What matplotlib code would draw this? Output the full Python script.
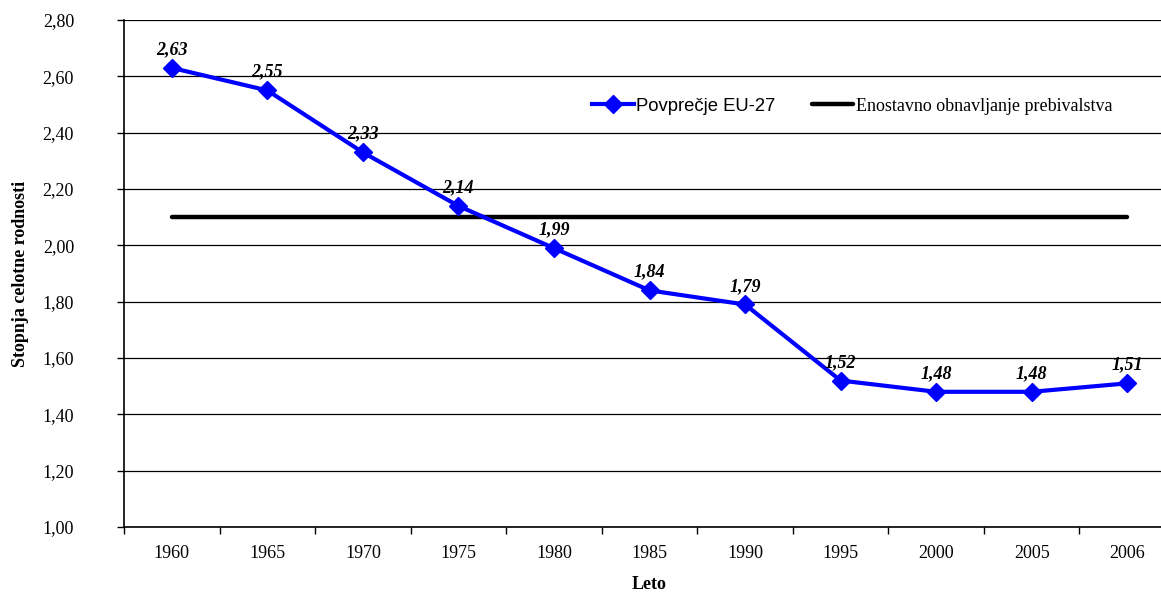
import matplotlib.pyplot as plt
from matplotlib.ticker import FixedLocator, FuncFormatter

years = ["1960", "1965", "1970", "1975", "1980", "1985", "1990", "1995", "2000", "2005", "2006"]
eu27 = [2.63, 2.55, 2.33, 2.14, 1.99, 1.84, 1.79, 1.52, 1.48, 1.48, 1.51]
replacement = [2.10] * len(years)

plt.rcParams['font.family'] = ['Liberation Serif', 'DejaVu Serif']

fig = plt.figure(figsize=(11.61, 5.92), dpi=100)
# axes runs a little past the right edge, like the original
ax = fig.add_axes([124 / 1161, 1 - 527 / 592, 1051 / 1161, 507 / 592])

x = list(range(len(years)))
ax.plot(x, eu27, color='#0000ff', lw=3, marker='D', ms=9.5,
        label='Povprečje EU-27', zorder=4)
ax.plot(x, replacement, color='black', lw=3.2, label='Enostavno obnavljanje prebivalstva',
        solid_capstyle='round', zorder=3)

for xi, v in zip(x, eu27):
    ax.annotate(f"{v:.2f}".replace('.', ','), (xi, v), xytext=(0, 7),
                textcoords='offset points', ha='center', va='bottom',
                fontsize=13, fontweight='bold', fontstyle='italic', zorder=5)

ax.set_xlim(-0.5, len(years) - 0.5)
ax.set_ylim(1.0, 2.8)
ax.set_yticks([1.0 + 0.2 * i for i in range(10)])
ax.yaxis.set_major_formatter(FuncFormatter(lambda v, p: f"{v:.2f}".replace('.', ',')))
ax.grid(axis='y', color='black', lw=0.9)
ax.set_axisbelow(True)

ax.xaxis.set_major_locator(FixedLocator([i - 0.5 for i in range(len(years) + 1)]))
ax.xaxis.set_minor_locator(FixedLocator(x))
ax.set_xticklabels([])
ax.set_xticklabels(years, minor=True)
ax.tick_params(axis='x', which='major', length=5, width=1, direction='out')
ax.tick_params(axis='x', which='minor', length=0, pad=13, labelsize=13)
ax.tick_params(axis='y', length=5, width=1, direction='out', labelsize=13, pad=31)

for s in ['top', 'right']:
    ax.spines[s].set_visible(False)
for s in ['left', 'bottom']:
    ax.spines[s].set_linewidth(1.2)

ax.set_xlabel("Leto", fontsize=13, fontweight='bold', labelpad=10)
ax.set_ylabel("Stopnja celotne rodnosti", fontsize=13, fontweight='bold', labelpad=10)

leg = ax.legend(loc='center left', bbox_to_anchor=((592 - 124) / 1051, 0.83), ncol=2,
                frameon=False, fontsize=13, handlelength=2.3, handletextpad=0.15,
                columnspacing=2.0, borderpad=0, borderaxespad=0)
leg.get_texts()[0].set_family('Liberation Sans')
leg.get_texts()[0].set_fontsize(13.3)

fig.savefig("out.png", dpi=100)
